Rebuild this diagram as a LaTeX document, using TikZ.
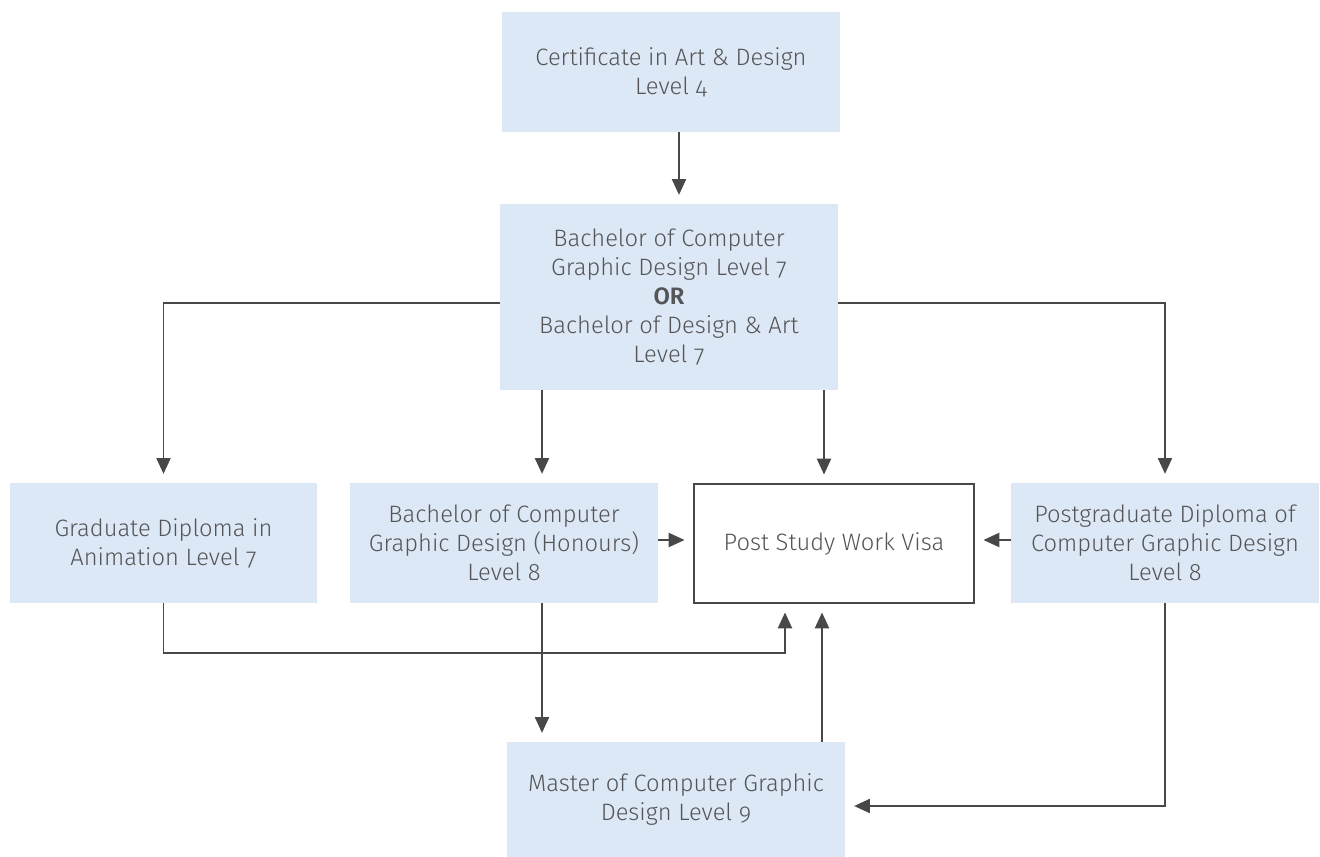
\documentclass[tikz,border=0pt]{standalone}
\usepackage{fontspec}
\setmainfont{Fira Sans}[UprightFont=* Light, BoldFont=* SemiBold, Numbers=OldStyle]
\usetikzlibrary{arrows.meta}

\definecolor{boxblue}{RGB}{220,232,245}
\definecolor{linegrey}{RGB}{72,72,72}
\definecolor{textgrey}{RGB}{85,85,88}

\begin{document}
\begin{tikzpicture}[x=0.02cm,y=-0.02cm,
  course/.style={fill=boxblue,text=textgrey,align=center,inner sep=0,
    minimum width=6.76cm,minimum height=2.4cm,
    font=\fontsize{13.5}{16.5}\selectfont},
  visabox/.style={course,fill=white,draw=linegrey,line width=0.8pt,
    minimum width=5.6cm,minimum height=2.38cm},
  link/.style={draw=linegrey,line width=1.1pt,
    -{Triangle[length=9pt,width=8pt]},shorten >=5pt}]

\useasboundingbox (0,0) rectangle (1320,857);

% lanes for the connectors
\coordinate (laneA) at (679,0);
\coordinate (laneB) at (542,0);
\coordinate (laneC) at (824,0);
\coordinate (laneD) at (785,0);
\coordinate (laneE) at (822,0);
\coordinate (rowA) at (0,303);
\coordinate (rowB) at (0,540);
\coordinate (rowC) at (0,653);
\coordinate (rowD) at (0,806);

% courses
\node (cert) at (671,72) [course] {Certificate in Art \& Design\\Level 4};
\node (bach) at (669,297) [course,minimum height=3.72cm]
  {Bachelor of Computer\\Graphic Design Level 7\\\textbf{OR}\\Bachelor of Design \& Art\\Level 7};
\node (grad) at (163.5,543) [course,minimum width=6.14cm] {Graduate Diploma in\\Animation Level 7};
\node (hons) at (504,543) [course,minimum width=6.16cm]
  {Bachelor of Computer\\Graphic Design (Honours)\\Level 8};
\node (visa) at (834,543.5) [visabox] {Post Study Work Visa};
\node (pgd) at (1165,543) [course,minimum width=6.16cm]
  {Postgraduate Diploma of\\Computer Graphic Design\\Level 8};
\node (mast) at (676,799.5) [course,minimum height=2.3cm]
  {Master of Computer Graphic\\Design Level 9};

% pathways
\draw [link] (cert.south -| laneA) -- (bach.north -| laneA);
\draw [link] (bach.west |- rowA) -| (grad.north);
\draw [link] (bach.south -| laneB) -- (hons.north -| laneB);
\draw [link] (bach.south -| laneC) -- (visa.north -| laneC);
\draw [link] (bach.east |- rowA) -| (pgd.north);

\draw [link] (hons.east |- rowB) -- (visa.west |- rowB);
\draw [link] (pgd.west |- rowB) -- (visa.east |- rowB);

\draw [link] (grad.south) -- (grad.south |- rowC) -- (rowC -| laneD) -- (visa.south -| laneD);
\draw [link] (hons.south -| laneB) -- (mast.north -| laneB);
\draw [link] (mast.north -| laneE) -- (visa.south -| laneE);
\draw [link] (pgd.south) |- (mast.east |- rowD);

\end{tikzpicture}
\end{document}
